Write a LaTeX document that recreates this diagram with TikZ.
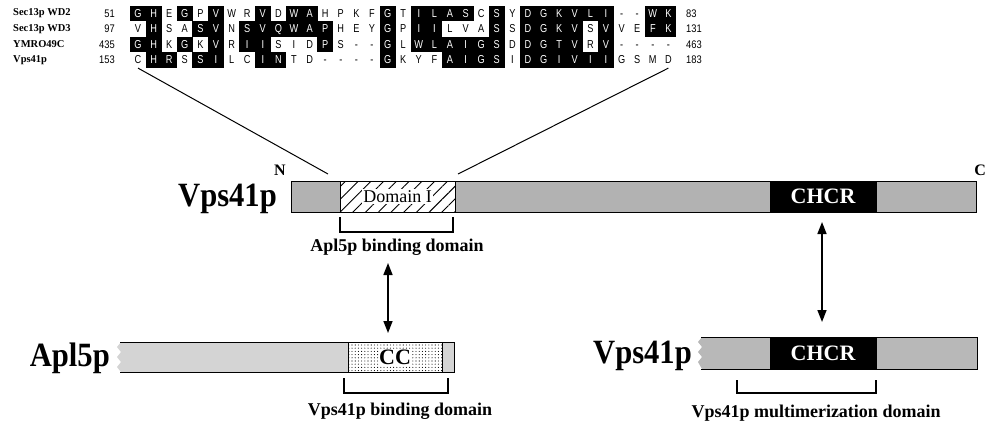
\documentclass[tikz,border=0pt]{standalone}
\usepackage{fontspec}
\setmainfont{Liberation Serif}
\newfontfamily\seqfont[FakeStretch=0.8]{Liberation Sans}
\newfontfamily\numfont[FakeStretch=0.85]{Liberation Sans}
\newfontfamily\labfont[FakeStretch=0.9]{Liberation Serif}
\usetikzlibrary{arrows.meta,patterns,patterns.meta}

\tikzset{
  cellbase/.style={inner sep=0pt, minimum width=15.9pt, minimum height=15.8pt,
    text height=8pt, text depth=0pt, font=\seqfont\fontsize{11.5}{11.5}\selectfont},
  cellon/.style={cellbase, fill=black, text=white},
  celloff/.style={cellbase},
  alname/.style={inner sep=0pt, anchor=west, font=\bfseries\fontsize{10.5}{12}\selectfont},
  numtxt/.style={inner sep=0pt, font=\numfont\fontsize{11}{12}\selectfont},
  biglabel/.style={inner sep=0pt, font=\labfont\bfseries\fontsize{34}{36}\selectfont},
  caption/.style={inner sep=0pt, font=\bfseries\fontsize{18}{20}\selectfont},
  termlabel/.style={inner sep=0pt, font=\bfseries\fontsize{16}{18}\selectfont},
  boxout/.style={draw=black, line width=0.9pt, inner sep=0pt},
  chcr/.style={boxout, fill=black, text=white, font=\bfseries\fontsize{22}{24}\selectfont},
  brk/.style={line width=1.1pt},
  dbl/.style={line width=1.5pt, {Triangle[length=12pt,width=9pt]}-{Triangle[length=12pt,width=9pt]}},
  zoomline/.style={line width=1pt}
}

\newcommand{\seqrow}[3]{%
  \foreach \ch/\b [count=\i] in {#3} {
    \pgfmathsetmacro\cx{138+(\i-1)*15.6}
    \ifnum\b=1
      \node[cellon] (s#1c\i) at (\cx,#2) {\ch};
    \else
      \node[celloff] (s#1c\i) at (\cx,#2) {\ch};
    \fi
  }}

\begin{document}
\begin{tikzpicture}[x=1pt,y=-1pt]
\useasboundingbox (0,0) rectangle (987,425);
\fill[white] (0,0) rectangle (987,425);

% ---------- sequence alignment ----------
\node[alname] (l1) at (13,13.5) {Sec13p WD2};
\node[alname] (l2) at (13,29)   {Sec13p WD3};
\node[alname] (l3) at (13,44.5) {YMRO49C};
\node[alname] (l4) at (13,60)   {Vps41p};

\node[numtxt, anchor=east] (n1) at (115,13.5) {51};
\node[numtxt, anchor=east] (n2) at (115,29)   {97};
\node[numtxt, anchor=east] (n3) at (115,44.5) {435};
\node[numtxt, anchor=east] (n4) at (115,60)   {153};

\seqrow{1}{13.5}{G/1,H/1,E/0,G/1,P/0,V/1,W/0,R/0,V/1,D/0,W/1,A/1,H/0,P/0,K/0,F/0,G/1,T/0,I/1,L/1,A/1,S/1,C/0,S/1,Y/0,D/1,G/1,K/1,V/1,L/1,I/1,-/0,-/0,W/1,K/1}
\seqrow{2}{29}{V/0,H/1,S/0,A/0,S/1,V/1,N/0,S/1,V/1,Q/1,W/1,A/1,P/1,H/0,E/0,Y/0,G/1,P/0,I/1,I/1,L/0,V/0,A/0,S/1,S/0,D/1,G/1,K/1,V/1,S/0,V/1,V/0,E/0,F/1,K/1}
\seqrow{3}{44.5}{G/1,H/1,K/0,G/1,K/0,V/1,R/0,I/1,I/1,S/0,I/0,D/0,P/1,S/0,-/0,-/0,G/1,L/0,W/1,L/1,A/1,I/1,G/1,S/1,D/0,D/1,G/1,T/1,V/1,R/0,V/1,-/0,-/0,-/0,-/0}
\seqrow{4}{60}{C/0,H/1,R/1,S/0,S/1,I/1,L/0,C/0,I/1,N/1,T/0,D/0,-/0,-/0,-/0,-/0,G/1,K/0,Y/0,F/0,A/1,I/1,G/1,S/1,I/0,D/1,G/1,I/1,V/1,I/1,I/1,G/0,S/0,M/0,D/0}

\node[numtxt, anchor=west] (m1) at (686,13.5) {83};
\node[numtxt, anchor=west] (m2) at (686,29)   {131};
\node[numtxt, anchor=west] (m3) at (686,44.5) {463};
\node[numtxt, anchor=west] (m4) at (686,60)   {183};

% ---------- full-length Vps41p ----------
\node[biglabel, anchor=base east] (vlab) at (277,206) {Vps41p};
\node[boxout, fill=black!30, minimum width=685pt, minimum height=31pt] (vbar) at (633.5,196.5) {};
\node[boxout, preaction={fill=white}, pattern={Lines[angle=45,distance=9pt,line width=0.9pt]},
      minimum width=115pt, minimum height=31pt] (dom) at (397.5,196.5) {};
\node[fill=white, inner sep=1pt, font=\fontsize{18}{20}\selectfont] (domtxt) at (397.5,196.5) {Domain I};
\node[chcr, minimum width=106pt, minimum height=31pt] (chcrA) at (823,196.5) {CHCR};
\node[termlabel] (nterm) at (280,170) {N};
\node[termlabel, anchor=east] (cterm) at (986,170) {C};

% zoom lines from the alignment to Domain I
\coordinate (zl) at (328,174);
\coordinate (zr) at (458,174);
\draw[zoomline] (s4c1.south) -- (zl);
\draw[zoomline] (s4c35.south) -- (zr);

% Apl5p binding domain bracket
\draw[brk] (340,217) -- (340,232) -- (453,232) -- (453,217);
\node[caption] (cap1) at (397,247) {Apl5p binding domain};

% ---------- Apl5p fragment ----------
\node[biglabel, anchor=base east] (alab) at (110,366) {Apl5p};
\fill[black!17] (121,342) -- (117,347) -- (121,352) -- (117,357) -- (121,362) -- (117,367) -- (121,372)
  -- (454,372) -- (454,342) -- cycle;
\draw[line width=0.9pt] (120,342) -- (454,342) -- (454,372) -- (120,372);
\node[boxout, preaction={fill=white}, pattern={Dots[distance=3.2pt,radius=0.55pt]},
      minimum width=94pt, minimum height=30pt] (cc) at (395,357) {};
\node[fill=white, inner sep=0.5pt, font=\bfseries\fontsize{22}{24}\selectfont] (cctxt) at (395,357) {CC};
\draw[brk] (344,378) -- (344,393) -- (448,393) -- (448,378);
\node[caption] (cap2) at (400,411) {Vps41p binding domain};

% ---------- Vps41p fragment ----------
\node[biglabel, anchor=base east] (vlab2) at (692,363) {Vps41p};
\fill[black!28] (702,337) -- (698,342) -- (702,347) -- (698,352) -- (702,357) -- (698,362) -- (702,369)
  -- (977,369) -- (977,337) -- cycle;
\draw[line width=0.9pt] (701,337) -- (977,337) -- (977,369) -- (701,369);
\node[chcr, minimum width=106pt, minimum height=32pt] (chcrB) at (823,353) {CHCR};
\draw[brk] (737,380) -- (737,393) -- (876,393) -- (876,380);
\node[caption] (cap3) at (816,413) {Vps41p multimerization domain};

% ---------- interaction arrows ----------
\coordinate (a1t) at (388,263);
\coordinate (a1b) at (388,333);
\draw[dbl] (a1t) -- (a1b);
\coordinate (a2t) at (822,222);
\coordinate (a2b) at (822,322);
\draw[dbl] (a2t) -- (a2b);
\end{tikzpicture}
\end{document}
